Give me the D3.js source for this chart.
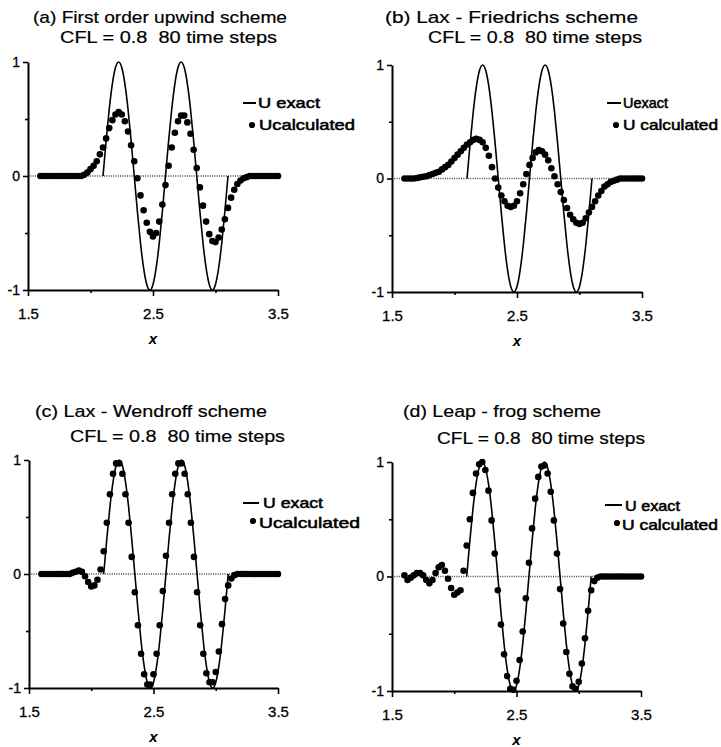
<!DOCTYPE html>
<html>
<head>
<meta charset="utf-8">
<script src="https://cdn.jsdelivr.net/npm/d3@7"></script>
<style>
  body { margin: 0; background: #fff; }
  text { font-family: "Liberation Sans", Arial, sans-serif; fill: #000; white-space: pre; }
</style>
</head>
<body>
<svg id="chart" width="721" height="747"></svg>
<script>
// grid of the computed solution: x = 1.6, 1.625, ... 3.5
const gridStart = 1.6
const gridStep = 0.025

// exact solution, sampled on the same spacing from x = 2.1 to 3.1
const exactStart = 2.1
const exactU = [0, .309, .588, .809, .951, 1, .951, .809, .588, .309,
  0, -.309, -.588, -.809, -.951, -1, -.951, -.809, -.588, -.309,
  0, .309, .588, .809, .951, 1, .951, .809, .588, .309,
  0, -.309, -.588, -.809, -.951, -1, -.951, -.809, -.588, -.309, 0]

// (a) first order upwind
const upwindU = [0, 0, 0, 0, 0, 0, 0, 0, 0, 0, 0, 0, 0, 0,
  .01, .03, .06, .09, .13, .19, .25, .33, .42, .49, .54, .56, .54, .48, .39, .27,
  .13, -.02, -.17, -.3, -.41, -.49, -.53, -.5, -.4, -.25, -.08, .09, .25, .38, .48,
  .53, .53, .47, .37, .23, .07, -.1, -.26, -.4, -.51, -.57, -.58, -.54, -.47, -.38,
  -.28, -.19, -.12, -.07, -.04, -.02, -.01,
  0, 0, 0, 0, 0, 0, 0, 0, 0, 0]

// (b) Lax-Friedrichs
const laxFriedrichsU = [0, 0, 0, 0,
  .005, .01, .015, .02, .03, .04, .05, .06, .08, .1, .12, .15, .18, .21, .24, .27,
  .3, .32, .34, .35, .34, .32, .27, .2, .1, 0, -.08, -.15, -.2, -.24, -.25, -.24,
  -.2, -.13, -.05, .04, .12, .18, .23, .25, .24, .21, .16, .09, .02, -.05, -.12,
  -.19, -.26, -.32, -.36, -.39, -.4, -.39, -.35, -.3, -.25, -.2, -.15, -.11, -.07,
  -.05, -.03, -.02, -.01,
  0, 0, 0, 0, 0, 0, 0, 0]

// (c) Lax-Wendroff
const laxWendroffU = [0, 0, 0, 0, 0, 0, 0, 0, 0, 0,
  .01, .02, .03, .02, -.02, -.07, -.11, -.1, -.05, .04, .2, .45, .7, .88, .97, .97,
  .88, .7, .45, .15, -.16, -.45, -.7, -.88, -.97, -.97, -.88, -.7, -.45, -.15, .16,
  .45, .7, .88, .97, .97, .88, .7, .45, .15, -.16, -.45, -.7, -.87, -.95, -.95,
  -.86, -.68, -.44, -.22, -.1, -.04, -.01, 0,
  0, 0, 0, 0, 0, 0, 0, 0, 0, 0, 0, 0, 0]

// (d) leap-frog
const leapFrogU = [.01, -.03, -.01, .01, .03, .03, .01, -.03, -.06, -.03,
  .03, .08, .1, .05, -.02, -.1, -.16, -.14, -.12, .05, .27, .5, .73, .9, .98, 1,
  .93, .75, .49, .2, -.12, -.42, -.68, -.87, -.98, -.99, -.91, -.73, -.48, -.19,
  .12, .42, .68, .87, .96, .97, .9, .74, .49, .2, -.11, -.41, -.66, -.85, -.96,
  -.98, -.92, -.76, -.54, -.3, -.12, -.04, -.01,
  0, 0, 0, 0, 0, 0, 0, 0, 0, 0, 0, 0, 0, 0]

const xTicks = [1.5, 2.5, 3.5]
const xMinorTicks = [2, 3]
const yTicks = [-1, 0, 1]
const yMinorTicks = [-0.5, 0.5]
const subtitle = 'CFL = 0.8\u00a0 80 time steps'

// layout of the four panels (pixel boxes measured on the page)
const panels = [
  { title: '(a) First order upwind scheme', u: upwindU,
    px: [28, 278], py: [62, 290],
    t1: [33, 287, 23], t2: [60, 277, 43],
    leg: { line: [243, 256, 103], e: ['U exact', 258, 320, 108], dot: [252, 125], c: ['Ucalculated', 259, 355, 130] } },
  { title: '(b) Lax - Friedrichs scheme', u: laxFriedrichsU,
    px: [392, 642], py: [65, 292],
    t1: [385, 638, 23], t2: [428, 642, 43],
    leg: { line: [607, 621, 103], e: ['Uexact', 623, 668, 108], dot: [616, 125], c: ['U calculated', 623, 718, 130] } },
  { title: '(c) Lax - Wendroff scheme', u: laxWendroffU,
    px: [29, 278], py: [460, 688],
    t1: [35, 267, 417], t2: [70, 285, 442],
    leg: { line: [243, 259, 503], e: ['U exact', 263, 323, 508], dot: [253, 521], c: ['Ucalculated', 259, 360, 528] } },
  { title: '(d) Leap - frog scheme', u: leapFrogU,
    px: [392, 641], py: [462, 691],
    t1: [403, 601, 417], t2: [437, 645, 444],
    leg: { line: [605, 622, 505], e: ['U exact', 625, 680, 511], dot: [617, 523], c: ['U calculated', 622, 718, 530] } }
]

const svg = d3.select('#chart')

function label(g, str, [x0, x1, base], size, stroke) {
  g.append('text')
    .attr('x', x0).attr('y', base)
    .attr('font-size', size)
    .attr('textLength', x1 - x0)
    .attr('lengthAdjust', 'spacingAndGlyphs')
    .attr('stroke', '#000').attr('stroke-width', stroke)
    .text(str)
}

panels.forEach(p => {
  const g = svg.append('g')

  const x = d3.scaleLinear().domain([1.5, 3.5]).range(p.px)
  const y = d3.scaleLinear().domain([-1, 1]).range([p.py[1], p.py[0]])

  label(g, p.title, p.t1, 17, 0.2)
  label(g, subtitle, p.t2, 17, 0.2)

  // dotted zero line
  g.append('line')
    .attr('x1', x(1.5)).attr('x2', x(3.5))
    .attr('y1', y(0)).attr('y2', y(0))
    .attr('stroke', '#444').attr('stroke-width', 1.3)
    .attr('stroke-dasharray', '1 1.3')

  // axes
  const yAxis = g.append('g')
    .attr('transform', `translate(${x(1.5)},0)`)
    .call(d3.axisLeft(y).tickValues(yTicks).tickSize(5).tickSizeOuter(0)
      .tickPadding(3).tickFormat(d => String(d)))
  yAxis.append('g').call(d3.axisLeft(y).tickValues(yMinorTicks).tickSize(3).tickFormat(''))
    .select('.domain').remove()

  const xAxis = g.append('g')
    .attr('transform', `translate(0,${y(-1)})`)
    .call(d3.axisBottom(x).tickValues(xTicks).tickSize(6).tickSizeOuter(0)
      .tickPadding(12).tickFormat(d3.format('.1f')))
  xAxis.append('g').call(d3.axisBottom(x).tickValues(xMinorTicks).tickSize(3).tickFormat(''))
    .select('.domain').remove()

  g.selectAll('.domain').attr('stroke-width', 2)
  g.selectAll('.tick line').attr('stroke-width', 1.6)
  yAxis.selectAll('text').attr('font-size', 14).attr('font-family', '"Liberation Sans", Arial, sans-serif')
    .attr('stroke', '#000').attr('stroke-width', 0.3)
  xAxis.selectAll('text').attr('font-size', 15).attr('font-family', '"Liberation Sans", Arial, sans-serif')
    .attr('stroke', '#000').attr('stroke-width', 0.3)

  g.append('text')
    .attr('x', x(2.5)).attr('y', y(-1) + 54)
    .attr('text-anchor', 'middle')
    .attr('font-size', 15).attr('font-style', 'italic').attr('font-weight', 'bold')
    .text('x')

  // exact solution
  const exact = exactU.map((u, i) => [exactStart + i * gridStep, u])
  g.append('path')
    .datum(exact)
    .attr('fill', 'none')
    .attr('stroke', '#000')
    .attr('stroke-width', 1.6)
    .attr('d', d3.line().x(d => x(d[0])).y(d => y(d[1])).curve(d3.curveNatural))

  // computed solution
  g.selectAll('circle.calc')
    .data(p.u.map((u, i) => [gridStart + i * gridStep, u]))
    .join('circle')
    .attr('class', 'calc')
    .attr('cx', d => x(d[0]))
    .attr('cy', d => y(d[1]))
    .attr('r', 3.3)
    .attr('fill', '#000')

  // legend
  const L = p.leg
  g.append('line')
    .attr('x1', L.line[0]).attr('x2', L.line[1])
    .attr('y1', L.line[2]).attr('y2', L.line[2])
    .attr('stroke', '#000').attr('stroke-width', 2)
  label(g, L.e[0], L.e.slice(1), 15, 0.55)
  g.append('circle').attr('cx', L.dot[0]).attr('cy', L.dot[1]).attr('r', 3.1).attr('fill', '#000')
  label(g, L.c[0], L.c.slice(1), 15, 0.55)
})
</script>
</body>
</html>
